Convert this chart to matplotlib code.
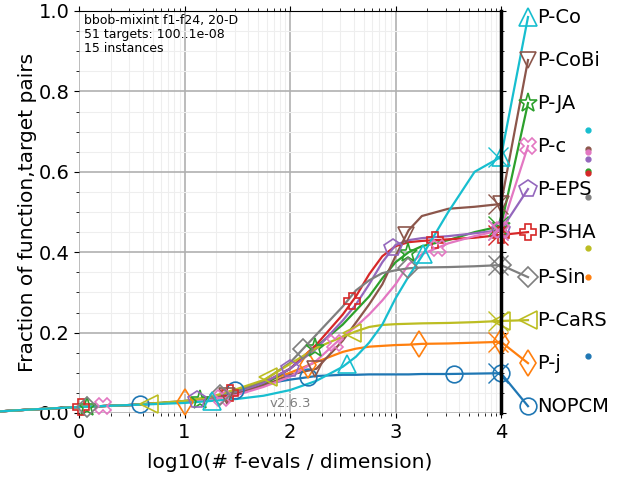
import numpy as np
import matplotlib
matplotlib.use('Agg')
import matplotlib.pyplot as plt

# x grid: log10(# f-evals / dimension)
log_evals = [-1, -0.5, 0, 0.5, 1, 1.25, 1.5, 1.75, 2, 2.25, 2.5, 2.625, 2.75,
             2.875, 3, 3.125, 3.25, 3.5, 3.75, 4]

# fraction of (function, target) pairs solved, one list per algorithm
nopcm = [0, 0.008, 0.015, 0.02, 0.028, 0.038, 0.058, 0.072, 0.083, 0.092, 0.095,
         0.095, 0.096, 0.096, 0.096, 0.096, 0.097, 0.097, 0.098, 0.099]
p_j = [0, 0.008, 0.015, 0.02, 0.028, 0.038, 0.055, 0.077, 0.1, 0.127, 0.152,
       0.16, 0.165, 0.167, 0.169, 0.17, 0.172, 0.173, 0.175, 0.177]
p_ja = [0, 0.008, 0.015, 0.02, 0.028, 0.036, 0.05, 0.07, 0.11, 0.165, 0.22,
        0.255, 0.29, 0.335, 0.375, 0.4, 0.415, 0.43, 0.45, 0.465]
p_sha = [0, 0.008, 0.015, 0.02, 0.028, 0.036, 0.055, 0.075, 0.11, 0.17, 0.245,
         0.29, 0.345, 0.39, 0.415, 0.425, 0.428, 0.432, 0.436, 0.443]
p_eps = [0, 0.008, 0.015, 0.02, 0.028, 0.035, 0.05, 0.075, 0.11, 0.16, 0.23,
         0.27, 0.32, 0.375, 0.418, 0.43, 0.435, 0.44, 0.447, 0.455]
p_cobi = [0, 0.008, 0.015, 0.02, 0.028, 0.034, 0.048, 0.068, 0.095, 0.11, 0.18,
          0.225, 0.27, 0.32, 0.39, 0.455, 0.49, 0.508, 0.513, 0.52]
p_c = [0, 0.008, 0.015, 0.02, 0.027, 0.033, 0.045, 0.065, 0.09, 0.13, 0.19,
       0.215, 0.245, 0.28, 0.32, 0.37, 0.395, 0.422, 0.44, 0.455]
p_sin = [0, 0.008, 0.015, 0.02, 0.03, 0.04, 0.055, 0.08, 0.125, 0.195, 0.265,
         0.305, 0.33, 0.348, 0.355, 0.36, 0.362, 0.363, 0.365, 0.368]
p_cars = [0, 0.008, 0.015, 0.02, 0.03, 0.04, 0.06, 0.082, 0.122, 0.162, 0.19,
          0.203, 0.214, 0.219, 0.221, 0.222, 0.223, 0.224, 0.226, 0.229]
p_co = [0, 0.008, 0.015, 0.02, 0.025, 0.03, 0.035, 0.043, 0.057, 0.08, 0.115,
        0.14, 0.175, 0.22, 0.285, 0.34, 0.39, 0.5, 0.6, 0.637]

names = ['NOPCM', 'P-j', 'P-JA', 'P-SHA', 'P-EPS', 'P-CoBi', 'P-c', 'P-Sin', 'P-CaRS', 'P-Co']
curves = [nopcm, p_j, p_ja, p_sha, p_eps, p_cobi, p_c, p_sin, p_cars, p_co]
# where the markers sit along each curve
marker_x = [[0.58, 1.48, 2.17, 3.55, 4],
            [1.0, 2.17, 3.22, 4],
            [0.08, 1.15, 2.24, 3.12, 4],
            [0.02, 1.43, 2.59, 3.37, 4],
            [1.12, 2.0, 2.98, 4],
            [1.4, 2.24, 3.1, 4],
            [0.23, 1.36, 2.43, 3.4, 4],
            [0.08, 1.34, 2.12, 3.12, 4],
            [0.66, 1.79, 2.59, 4],
            [1.26, 2.54, 3.26, 4]]
label_y = [0.017, 0.124, 0.771, 0.45, 0.557, 0.878, 0.664, 0.338, 0.231, 0.985]
dot_y = [0.142, 0.338, 0.602, 0.597, 0.632, 0.657, 0.649, 0.537, 0.41, 0.704]

colors = ['#1f77b4', '#ff7f0e', '#2ca02c', '#d62728', '#9467bd',
          '#8c564b', '#e377c2', '#7f7f7f', '#bcbd22', '#17becf']
markers = ['o', 'd', '*', 'P', 'p', 'v', 'X', 'D', '<', '^']
msizes = [12, 13, 14, 12, 13, 12, 12, 10, 13, 13]

fig = plt.figure(figsize=(6.4, 4.8), dpi=100)
ax = fig.add_axes([79/640, 1 - 413/480, 422/640, 402/480])

for i in range(len(names)):
    c = colors[i]
    ax.plot(log_evals, curves[i], color=c, lw=1.6, clip_on=False, zorder=3)
    mx = np.array(marker_x[i])
    my = np.interp(mx, log_evals, curves[i])
    ax.plot(mx, my, ls='none', marker=markers[i], ms=msizes[i], mfc='none',
            mec=c, mew=1.2, clip_on=False, zorder=4)
    yend = curves[i][-1]
    ax.plot(3.97, yend, ls='none', marker='x', ms=14, mec=c, mew=1.0,
            clip_on=False, zorder=4)
    # line to the label on the right
    ax.plot([4, 4.256], [yend, label_y[i]], color=c, lw=1.6, clip_on=False, zorder=3)
    ax.plot(4.256, label_y[i], ls='none', marker=markers[i], ms=msizes[i], mfc='none',
            mec=c, mew=1.2, clip_on=False, zorder=4)
    ax.text(4.345, label_y[i], names[i], fontsize=14, va='center', ha='left')
    ax.plot(4.82, dot_y[i], ls='none', marker='o', ms=3.5, color=c, clip_on=False)

ax.axvline(4, color='k', lw=2.5, zorder=5, clip_on=False)

ax.set_xlim(0, 4)
ax.set_ylim(0, 1)
ax.set_xticks([0, 1, 2, 3, 4])
ax.set_xticks([k + np.log10(m) for k in range(4) for m in range(2, 10)], minor=True)
ax.set_yticks([0, 0.2, 0.4, 0.6, 0.8, 1.0])
ax.set_yticklabels(['0.0', '0.2', '0.4', '0.6', '0.8', '1.0'])
ax.set_yticks(np.arange(0, 1.001, 0.05), minor=True)
ax.tick_params(which='both', direction='out', top=True, right=True, labelsize=14)
ax.grid(True, which='major', color='#b0b0b0', lw=1.2)
ax.grid(True, which='minor', color='#eeeeee', lw=0.8)
ax.set_axisbelow(True)

ax.spines['left'].set_visible(False)
ax.spines['bottom'].set_visible(False)
ax.spines['right'].set_visible(False)

ax.set_xlabel('log10(# f-evals / dimension)', fontsize=14.5, labelpad=8)
ax.set_ylabel('Fraction of function,target pairs', fontsize=14.5, labelpad=1)

ax.text(0.012, 0.993, 'bbob-mixint f1-f24, 20-D\n51 targets: 100..1e-08\n15 instances',
        transform=ax.transAxes, va='top', ha='left', fontsize=9, linespacing=1.1)
ax.text(2.0, 0.024, 'v2.6.3', color='#808080', fontsize=9.5, ha='center', va='center')

fig.savefig('out.png', dpi=100)
